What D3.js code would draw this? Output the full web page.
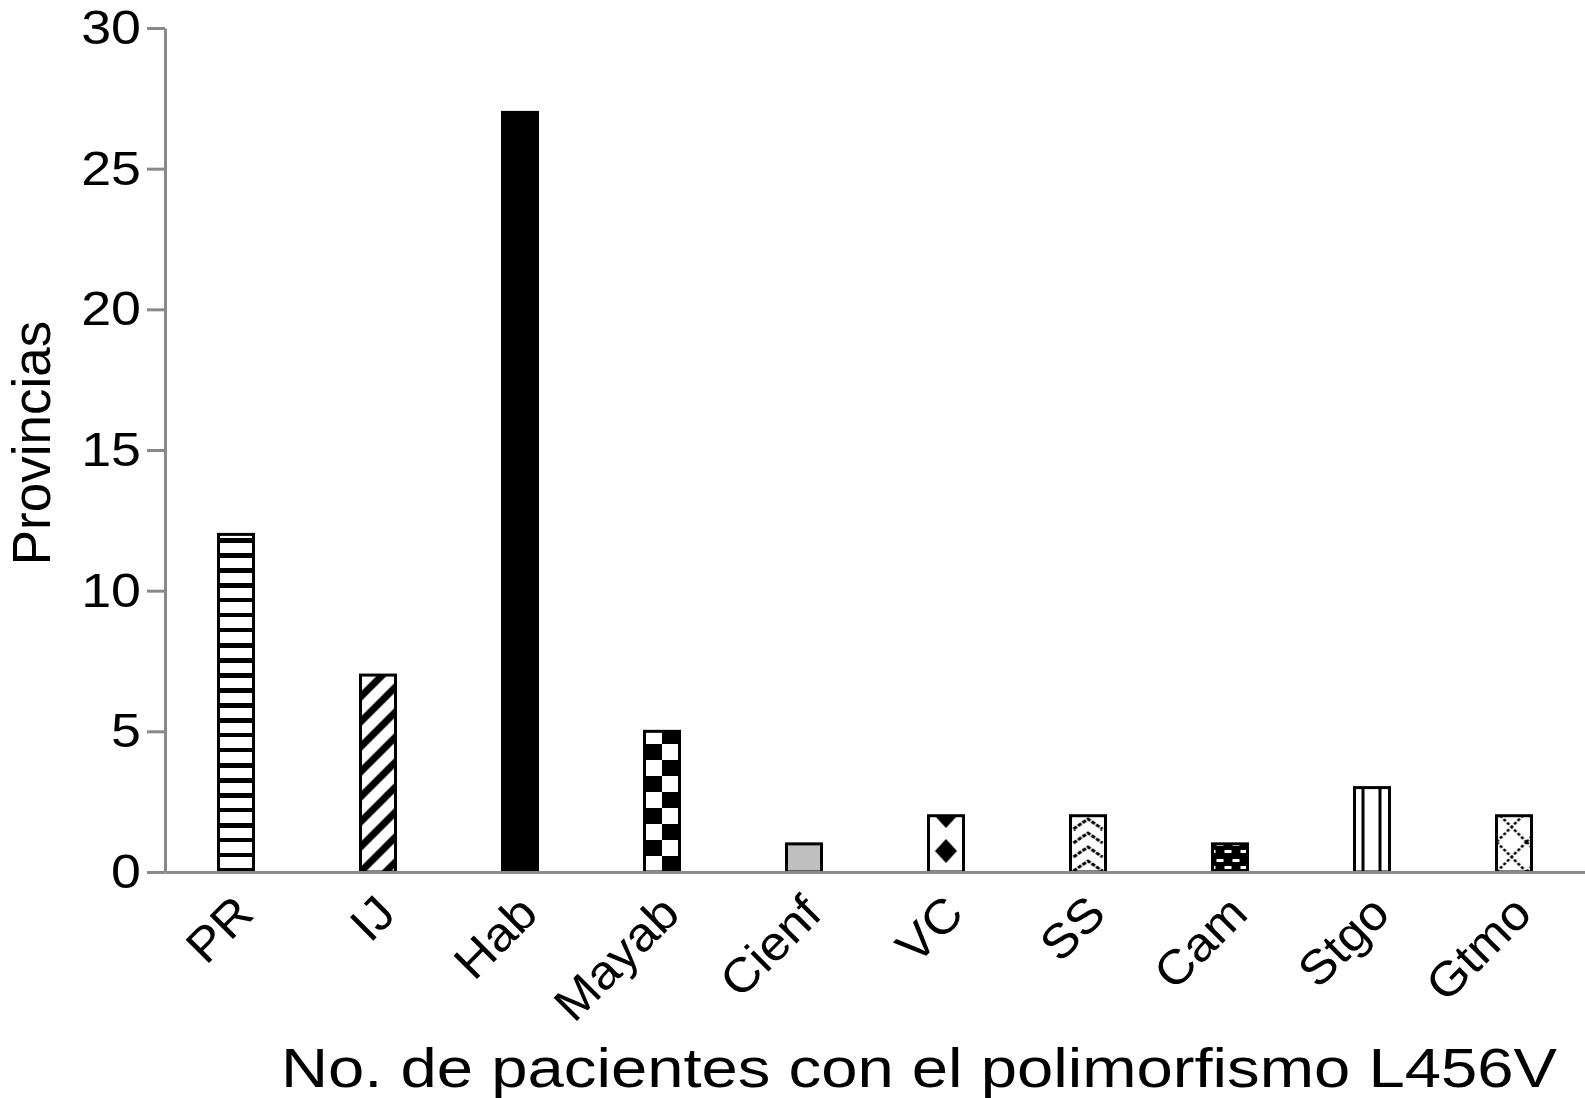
<!DOCTYPE html>
<html>
<head>
<meta charset="utf-8">
<script src="https://cdn.jsdelivr.net/npm/d3@7"></script>
<style>
  body { margin: 0; background: #fff; }
  text { font-family: "Liberation Sans", Arial, sans-serif; fill: #000; }
</style>
</head>
<body>
<svg id="chart" width="1585" height="1098"></svg>
<script>
// Data
const provinces = ["PR", "IJ", "Hab", "Mayab", "Cienf", "VC", "SS", "Cam", "Stgo", "Gtmo"];
const patients = [12, 7, 27, 5, 1, 2, 2, 1, 3, 2];
const fills = ["hlines", "diag", "solid", "checker", "grey", "diamond", "chevron", "brick", "vlines", "lattice"];
const yTicks = [0, 5, 10, 15, 20, 25, 30];

const width = 1585, height = 1098;
const axisColor = "#898989";
const stretch = 1.12; // the original's type is set a little wide

const svg = d3.select("#chart");

const x = d3.scaleBand()
  .domain(provinces)
  .range([165, 1585]);

const y = d3.scaleLinear()
  .domain([0, 30])
  .range([872, 28]);

const barW = 35;
const baseY = y(0);

function barLeft(d) { return x(d) + x.bandwidth() / 2 - barW / 2; }

function widen(sel, k) {
  sel.each(function() {
    const len = this.getComputedTextLength();
    d3.select(this).attr("textLength", len * k).attr("lengthAdjust", "spacingAndGlyphs");
  });
}

// Patterns, each one anchored to its own bar
const defs = svg.append("defs");

function makePattern(id, px, w, h) {
  return defs.append("pattern")
    .attr("id", id)
    .attr("patternUnits", "userSpaceOnUse")
    .attr("x", px).attr("y", baseY)
    .attr("width", w).attr("height", h);
}

provinces.forEach((p, i) => {
  const kind = fills[i];
  const px = barLeft(p);
  let pat;
  if (kind === "hlines") {
    pat = makePattern("pat-" + i, px, barW, 15);
    pat.append("rect").attr("width", barW).attr("height", 15).attr("fill", "#fff");
    pat.append("rect").attr("y", 11).attr("width", barW).attr("height", 4).attr("fill", "#000");
  } else if (kind === "diag") {
    const s = 25;
    pat = makePattern("pat-" + i, px, s, s);
    pat.append("rect").attr("width", s).attr("height", s).attr("fill", "#fff");
    pat.append("path")
      .attr("d", `M-4,${s + 4}L${s + 4},-4M-4,4L4,-4M${s - 4},${s + 4}L${s + 4},${s - 4}`)
      .attr("stroke", "#000").attr("stroke-width", 7);
  } else if (kind === "checker") {
    pat = makePattern("pat-" + i, px + 1.5, 32, 32);
    pat.append("rect").attr("width", 32).attr("height", 32).attr("fill", "#fff");
    pat.append("rect").attr("x", 0).attr("y", 0).attr("width", 16).attr("height", 16).attr("fill", "#000");
    pat.append("rect").attr("x", 16).attr("y", 16).attr("width", 16).attr("height", 16).attr("fill", "#000");
  } else if (kind === "diamond") {
    pat = makePattern("pat-" + i, px, barW, 35);
    pat.append("rect").attr("width", barW).attr("height", 35).attr("fill", "#fff");
    const cx = barW / 2;
    pat.append("path")
      .attr("d", `M${cx},2L${cx + 11},14L${cx},26L${cx - 11},14Z`)
      .attr("fill", "#000");
  } else if (kind === "chevron") {
    pat = makePattern("pat-" + i, px, barW, 14);
    pat.append("rect").attr("width", barW).attr("height", 14).attr("fill", "#fff");
    pat.append("path")
      .attr("d", `M3,13L${barW / 2},3L${barW - 3},13`)
      .attr("fill", "none").attr("stroke", "#000")
      .attr("stroke-width", 3).attr("stroke-dasharray", "4,1.5");
  } else if (kind === "brick") {
    pat = makePattern("pat-" + i, px, 16, 16);
    pat.append("rect").attr("width", 16).attr("height", 16).attr("fill", "#000");
    pat.append("rect").attr("x", 4).attr("y", 3).attr("width", 7).attr("height", 3).attr("fill", "#fff");
    pat.append("rect").attr("x", 12).attr("y", 10).attr("width", 7).attr("height", 3).attr("fill", "#fff");
    pat.append("rect").attr("x", -4).attr("y", 10).attr("width", 7).attr("height", 3).attr("fill", "#fff");
  } else if (kind === "vlines") {
    pat = makePattern("pat-" + i, px, 17, 20);
    pat.append("rect").attr("width", 17).attr("height", 20).attr("fill", "#fff");
    pat.append("rect").attr("x", 7).attr("width", 3).attr("height", 20).attr("fill", "#000");
  } else if (kind === "lattice") {
    const s = 30;
    pat = makePattern("pat-" + i, px, s, s);
    pat.append("rect").attr("width", s).attr("height", s).attr("fill", "#fff");
    pat.append("path")
      .attr("d", `M0,${s}L${s},0M0,0L${s},${s}`)
      .attr("stroke", "#000").attr("stroke-width", 2.5)
      .attr("stroke-dasharray", "3,2");
  }
});

function fillFor(i) {
  const kind = fills[i];
  if (kind === "solid") return "#000";
  if (kind === "grey") return "#bfbfbf";
  return `url(#pat-${i})`;
}

// Bars
svg.append("g")
  .selectAll("rect")
  .data(provinces)
  .join("rect")
    .attr("x", d => barLeft(d))
    .attr("y", (d, i) => y(patients[i]))
    .attr("width", barW)
    .attr("height", (d, i) => baseY - y(patients[i]))
    .attr("fill", (d, i) => fillFor(i))
    .attr("stroke", "#000")
    .attr("stroke-width", 3);

// Y axis
const yAxis = svg.append("g")
  .attr("transform", "translate(165,0)")
  .call(d3.axisLeft(y).tickValues(yTicks).tickSize(18).tickSizeOuter(0).tickPadding(6));

yAxis.select(".domain").attr("stroke", axisColor).attr("stroke-width", 3);
yAxis.selectAll(".tick line").attr("stroke", axisColor).attr("stroke-width", 3);
yAxis.selectAll(".tick text")
  .attr("font-size", 48)
  .attr("font-family", "Liberation Sans, Arial, sans-serif")
  .attr("fill", "#000")
  .call(widen, stretch);

// X axis
const xAxis = svg.append("g")
  .attr("transform", `translate(0,${baseY})`)
  .call(d3.axisBottom(x).tickSize(0).tickSizeOuter(0).tickFormat(""));

xAxis.select(".domain").attr("stroke", axisColor).attr("stroke-width", 3);

svg.append("g")
  .selectAll("text")
  .data(provinces)
  .join("text")
    .attr("transform", d => `translate(${x(d) + x.bandwidth() / 2 + 20},${baseY + 44}) rotate(-45)`)
    .attr("text-anchor", "end")
    .attr("font-size", 48)
    .text(d => d)
    .call(widen, 1.06);

// Axis titles
svg.append("text")
  .attr("transform", "translate(50,443) rotate(-90)")
  .attr("text-anchor", "middle")
  .attr("font-size", 53)
  .text("Provincias");

svg.append("text")
  .attr("x", 919)
  .attr("y", 1087)
  .attr("text-anchor", "middle")
  .attr("font-size", 55)
  .attr("textLength", 1276)
  .attr("lengthAdjust", "spacingAndGlyphs")
  .text("No. de pacientes con el polimorfismo L456V");
</script>
</body>
</html>
